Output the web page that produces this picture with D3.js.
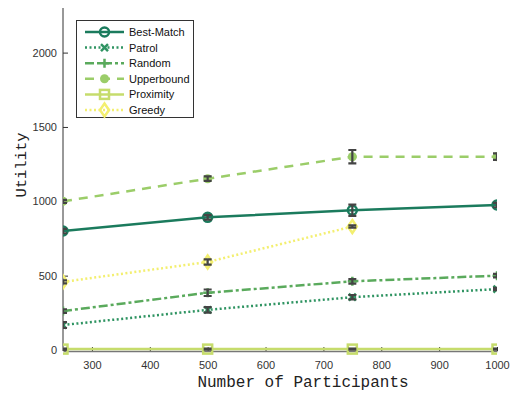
<!DOCTYPE html>
<html>
<head>
<meta charset="utf-8">
<script src="https://cdn.jsdelivr.net/npm/d3@7/dist/d3.min.js"></script>
<style>
  body { margin: 0; background: #fff; }
  .tick text { font-family: "Liberation Sans", Arial, sans-serif; font-size: 11px; fill: #333; }
</style>
</head>
<body>
<svg id="chart" width="519" height="393"></svg>
<script>
const participants = [250, 500, 750, 1000];
const bestMatch = [800, 892, 940, 975];
const bestMatchErr = [15, 15, 38, 15];
const patrol = [168, 270, 355, 410];
const patrolErr = [20, 18, 15, 8];
const random = [262, 385, 462, 500];
const randomErr = [12, 22, 15, 12];
const upperbound = [1000, 1152, 1300, 1300];
const upperboundErr = [10, 15, 45, 22];
const proximity = [6, 6, 6, 6];
const proximityErr = [3, 3, 4, 3];
const greedy = [458, 592, 830];
const greedyErr = [10, 18, 8];
const xTicks = [300, 400, 500, 600, 700, 800, 900, 1000];
const yTicks = [0, 500, 1000, 1500, 2000];

const series = [
  {name: 'Best-Match', y: bestMatch, err: bestMatchErr, color: '#1b7b5d', dash: null, marker: 'circle'},
  {name: 'Patrol', y: patrol, err: patrolErr, color: '#2f9462', dash: '2,2.5', marker: 'x'},
  {name: 'Random', y: random, err: randomErr, color: '#5aaa5c', dash: '9,3,3,3', marker: 'plus'},
  {name: 'Upperbound', y: upperbound, err: upperboundErr, color: '#9bcd69', dash: '9,7', marker: 'dot'},
  {name: 'Proximity', y: proximity, err: proximityErr, color: '#c6dc6c', dash: null, marker: 'square'},
  {name: 'Greedy', y: greedy, err: greedyErr, color: '#f3ef70', dash: '2,2.5', marker: 'diamond'}
];

const svg = d3.select('#chart');
const mLeft = 63, mRight = 497, mTop = 8, mBottom = 350;
const x = d3.scaleLinear().domain([250, 1000]).range([mLeft, mRight]);
const y = d3.scaleLinear().domain([0, 2300]).range([mBottom, mTop]);

svg.append('defs').append('clipPath').attr('id', 'plotclip')
  .append('rect').attr('x', mLeft).attr('y', mTop - 5)
  .attr('width', mRight - mLeft).attr('height', mBottom - mTop + 10);

// axes
const gx = svg.append('g').attr('transform', `translate(0,${mBottom + 1})`)
  .call(d3.axisBottom(x).tickValues(xTicks).tickFormat(d3.format('d'))
    .tickSizeInner(-4).tickSizeOuter(0).tickPadding(10));
const gy = svg.append('g').attr('transform', `translate(${mLeft},0)`)
  .call(d3.axisLeft(y).tickValues(yTicks).tickFormat(d3.format('d'))
    .tickSizeInner(-5).tickSizeOuter(0).tickPadding(6));
[gx, gy].forEach(g => {
  g.select('.domain').attr('stroke', '#333').attr('stroke-width', 1);
  g.selectAll('.tick line').attr('stroke', '#333');
});
gx.select('.domain').attr('stroke', '#777').attr('stroke-width', 1.5);
gy.select('.domain').attr('d', `M0,${mBottom + 1}V${mTop}`);

svg.append('text').attr('x', 303).attr('y', 387).attr('text-anchor', 'middle')
  .style('font-family', '"Liberation Mono", "Courier New", monospace').style('font-size', '16px')
  .attr('fill', '#222').text('Number of Participants');
svg.append('text').attr('transform', 'translate(26,165) rotate(-90)').attr('text-anchor', 'middle')
  .style('font-family', '"Liberation Mono", "Courier New", monospace').style('font-size', '15.5px')
  .attr('fill', '#222').text('Utility');

function drawMarker(g, type, cx, cy, color) {
  if (type === 'circle') {
    g.append('circle').attr('cx', cx).attr('cy', cy).attr('r', 4.5)
      .attr('fill', 'none').attr('stroke', color).attr('stroke-width', 2.5);
  } else if (type === 'x') {
    g.append('path').attr('d', `M${cx-3.5},${cy-3.5}L${cx+3.5},${cy+3.5}M${cx-3.5},${cy+3.5}L${cx+3.5},${cy-3.5}`)
      .attr('stroke', color).attr('stroke-width', 2.5);
  } else if (type === 'plus') {
    g.append('path').attr('d', `M${cx-4.5},${cy}L${cx+4.5},${cy}M${cx},${cy-4.5}L${cx},${cy+4.5}`)
      .attr('stroke', color).attr('stroke-width', 2.5);
  } else if (type === 'dot') {
    g.append('circle').attr('cx', cx).attr('cy', cy).attr('r', 4.5).attr('fill', color);
  } else if (type === 'square') {
    g.append('rect').attr('x', cx - 4.5).attr('y', cy - 4.5).attr('width', 9).attr('height', 9)
      .attr('fill', 'none').attr('stroke', color).attr('stroke-width', 2.5);
  } else if (type === 'diamond') {
    g.append('path').attr('d', `M${cx},${cy-6.5}L${cx+4.5},${cy}L${cx},${cy+6.5}L${cx-4.5},${cy}Z`)
      .attr('fill', 'none').attr('stroke', color).attr('stroke-width', 2.5);
  }
}

const plot = svg.append('g').attr('clip-path', 'url(#plotclip)');
const line = d3.line().x(d => x(d[0])).y(d => y(d[1]));

// draw from back to front
series.slice().reverse().forEach(s => {
  const pts = s.y.map((v, i) => [participants[i], v, s.err[i]]);
  const g = plot.append('g');
  g.append('path').datum(pts).attr('d', line).attr('fill', 'none')
    .attr('stroke', s.color).attr('stroke-width', 2.5)
    .attr('stroke-dasharray', s.dash);
  pts.forEach(p => drawMarker(g, s.marker, x(p[0]), y(p[1]), s.color));
  pts.forEach(p => {
    const cx = x(p[0]), y0 = y(p[1] - p[2]), y1 = y(p[1] + p[2]);
    g.append('path').attr('d', `M${cx},${y0}V${y1}M${cx-4},${y0}H${cx+4}M${cx-4},${y1}H${cx+4}`)
      .attr('stroke', '#444').attr('stroke-width', 2.2).attr('fill', 'none');
  });
});

// legend
const lg = svg.append('g');
lg.append('rect').attr('x', 76.5).attr('y', 20.5).attr('width', 117).attr('height', 97)
  .attr('fill', '#fff').attr('stroke', '#333').attr('stroke-width', 1);
const ly = d3.scalePoint().domain(series.map(s => s.name)).range([32, 110]);
series.forEach(s => {
  const yy = ly(s.name);
  lg.append('line').attr('x1', 85).attr('x2', 124).attr('y1', yy).attr('y2', yy)
    .attr('stroke', s.color).attr('stroke-width', 2.5).attr('stroke-dasharray', s.dash);
  drawMarker(lg, s.marker, 104.5, yy, s.color);
  lg.append('text').attr('x', 129).attr('y', yy + 4)
    .style('font-family', '"Liberation Sans", Arial, sans-serif').style('font-size', '11px')
    .attr('fill', '#111').text(s.name);
});
</script>
</body>
</html>
